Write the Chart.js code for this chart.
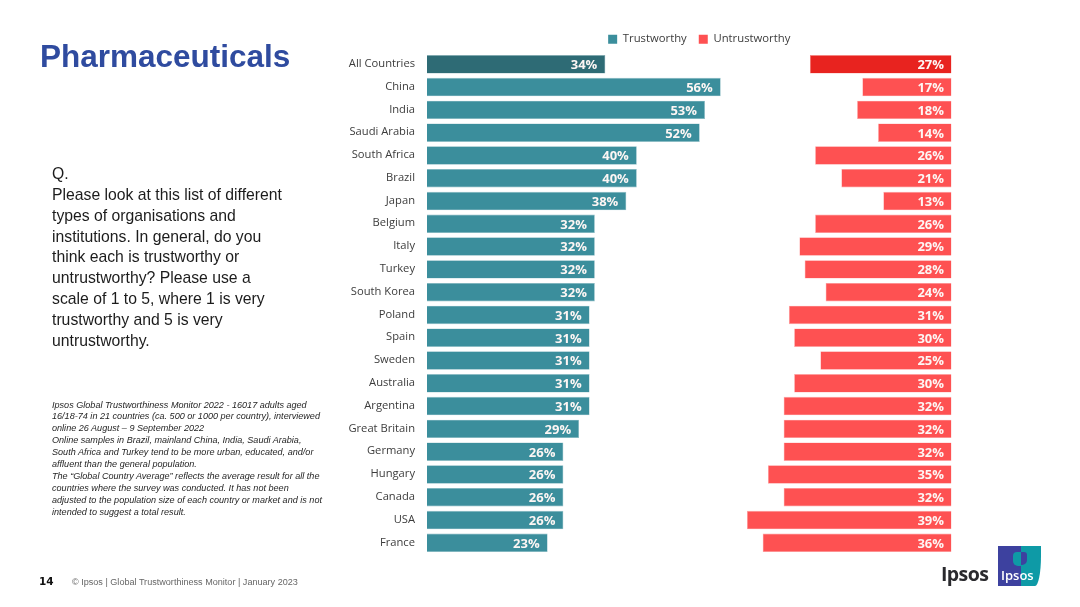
<!DOCTYPE html>
<html><head><meta charset="utf-8">
<script src="https://cdn.jsdelivr.net/npm/chart.js@4"></script>
<style>
html,body{margin:0;padding:0;background:#fff;width:1080px;height:607px;overflow:hidden}
#wrap{position:relative;width:1080px;height:607px}
canvas{position:absolute;left:0;top:0}
.t{position:absolute;font-family:"Liberation Sans",Arial,sans-serif;white-space:nowrap}
#title{left:40px;top:38px;font-size:31.5px;font-weight:bold;color:#2f4b9f;line-height:36px}
#q{left:52px;top:164px;font-size:15.75px;line-height:20.85px;color:#1c1c1c}
#note{left:52px;top:399.5px;font-size:9.09px;line-height:11.95px;font-style:italic;color:#262626}
#page{left:39px;top:575px;font-size:10.5px;font-weight:bold;color:#111;font-family:"DejaVu Sans",sans-serif}
#foot{left:72px;top:577px;font-size:9.08px;color:#666}
#brand{left:941px;top:560px;font-size:19.5px;font-weight:bold;color:#2a2a2e;font-family:"Open Sans",sans-serif;letter-spacing:-.6px}
#logo{position:absolute;left:998px;top:546px;width:43px;height:40px;background:linear-gradient(90deg,#3d419f 0 53%,#0e9aa6 53% 100%);border-radius:0 0 6px 0/0 0 30px 0;overflow:hidden}
#mark1{position:absolute;left:15px;top:6px;width:8px;height:14px;background:#0e9aa6;border-radius:4px 0 0 5px}
#mark2{position:absolute;left:23px;top:6px;width:6px;height:13px;background:#3d419f;border-radius:0 3px 5px 0}
#logotxt{left:3px;top:20px;font-size:13px;font-weight:600;color:#fff;font-family:"Open Sans",sans-serif}
</style></head>
<body><div id="wrap">
<canvas id="c" width="1080" height="607"></canvas>
<div class="t" id="title">Pharmaceuticals</div>
<div class="t" id="q">Q.<br>Please look at this list of different<br>types of organisations and<br>institutions. In general, do you<br>think each is trustworthy or<br>untrustworthy? Please use a<br>scale of 1 to 5, where 1 is very<br>trustworthy and 5 is very<br>untrustworthy.</div>
<div class="t" id="note">Ipsos Global Trustworthiness Monitor 2022 - 16017 adults aged<br>16/18-74 in 21 countries (ca. 500 or 1000 per country), interviewed<br>online 26 August – 9 September 2022<br>Online samples in Brazil, mainland China, India, Saudi Arabia,<br>South Africa and Turkey tend to be more urban, educated, and/or<br>affluent than the general population.<br>The “Global Country Average” reflects the average result for all the<br>countries where the survey was conducted. It has not been<br>adjusted to the population size of each country or market and is not<br>intended to suggest a total result.</div>
<div class="t" id="page">14</div>
<div class="t" id="foot">© Ipsos | Global Trustworthiness Monitor | January 2023</div>
<div class="t" id="brand">Ipsos</div>
<div id="logo"><div id="mark1"></div><div id="mark2"></div><div class="t" id="logotxt">Ipsos</div></div>
</div>
<script>
const categories = ["All Countries","China","India","Saudi Arabia","South Africa","Brazil","Japan","Belgium","Italy","Turkey","South Korea","Poland","Spain","Sweden","Australia","Argentina","Great Britain","Germany","Hungary","Canada","USA","France"];
const trustworthy = [34,56,53,52,40,40,38,32,32,32,32,31,31,31,31,31,29,26,26,26,26,23];
const untrustworthy = [27,17,18,14,26,21,13,26,29,28,24,31,30,25,30,32,32,32,35,32,39,36];

const barLabels = {
  id:'barLabels',
  afterDatasetsDraw(chart){
    const ctx = chart.ctx;
    ctx.save();
    ctx.font = 'bold 13px "Open Sans", sans-serif';
    ctx.fillStyle = '#fdf6f4';
    ctx.textAlign = 'right';
    ctx.textBaseline = 'middle';
    chart.data.datasets.forEach((ds,di)=>{
      chart.getDatasetMeta(di).data.forEach((el,i)=>{
        const edge = di===0 ? el.x-8 : el.base-7.5;
        ctx.fillText(ds.data[i]+'%', edge, el.y+1.2);
      });
    });
    ctx.restore();
  }
};
const moveLegend = {
  id:'moveLegend',
  afterLayout(chart){
    const l = chart.legend;
    l.top += 1.9; l.bottom += 1.9;
    l.left += 10; l.right += 10;
  }
};
new Chart(document.getElementById('c'),{
  type:'bar',
  data:{labels:categories,datasets:[
    {label:'Trustworthy',data:trustworthy,xAxisID:'x',grouped:false,
     backgroundColor:c=>c.dataIndex===0?'#2e6b75':'#3b8e9c',
     borderColor:c=>c.dataIndex===0?'#7fa9b0':'#8dbcc4',borderWidth:0.6},
    {label:'Untrustworthy',data:untrustworthy,xAxisID:'x2',grouped:false,
     backgroundColor:c=>c.dataIndex===0?'#e8231f':'#fe5152',
     borderColor:c=>c.dataIndex===0?'#f58a87':'#fea3a3',borderWidth:0.6}
  ]},
  options:{
    indexAxis:'y',responsive:false,animation:false,devicePixelRatio:1,
    categoryPercentage:1,barPercentage:0.81,
    layout:{padding:{left:0,right:128.5,top:19.6,bottom:52.8}},
    scales:{
      x:{display:false,min:0,max:100},
      x2:{display:false,min:0,max:100,reverse:true},
      y:{position:'left',
         afterFit(s){s.width=427;},
         grid:{display:false,drawBorder:false},border:{display:false},
         ticks:{autoSkip:false,padding:4,color:'#3c3c3c',labelOffset:-0.5,
                font:{family:'"Open Sans", sans-serif',size:11.2}}}
    },
    plugins:{
      tooltip:{enabled:false},
      legend:{position:'top',fullSize:false,
        labels:{boxWidth:9,boxHeight:9,padding:12,color:'#3c3c3c',
          font:{family:'"Open Sans", sans-serif',size:11.3},
          generateLabels(chart){
            return [['Trustworthy','#3b8e9c'],['Untrustworthy','#fe5152']].map(([text,fill],i)=>({text,fillStyle:fill,strokeStyle:fill,lineWidth:0,datasetIndex:i,fontColor:'#3c3c3c'}));
          }}}
    }
  },
  plugins:[barLabels,moveLegend]
});
</script>
</body></html>
